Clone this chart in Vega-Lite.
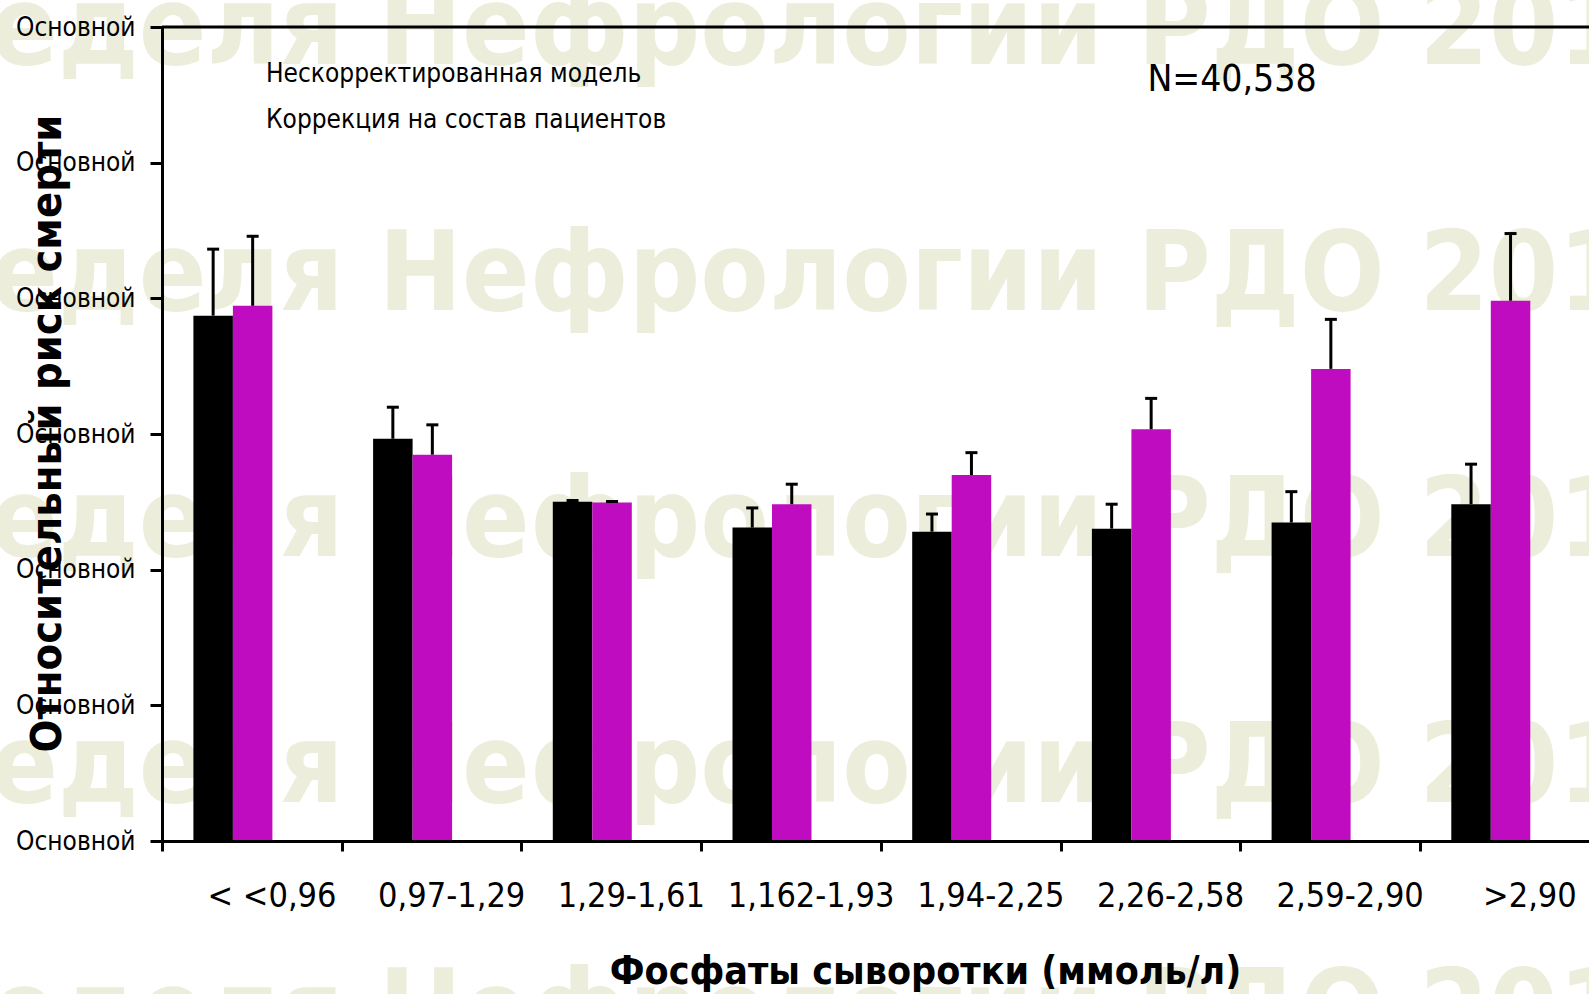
{
  "$schema": "https://vega.github.io/schema/vega-lite/v6.json",
  "width": 1427,
  "height": 814,
  "autosize": {"type": "none"},
  "padding": {"left": 162, "top": 27, "right": 0, "bottom": 153},
  "background": "white",
  "config": {"view": {"stroke": null}, "font": "DejaVu Sans Condensed, Liberation Sans, sans-serif"},
  "datasets": {
    "bars": [
      {"cat": "< <0,96", "series": "Нескорректированная модель", "rr": 1.549, "upper": 1.745},
      {"cat": "< <0,96", "series": "Коррекция на состав пациентов", "rr": 1.578, "upper": 1.783},
      {"cat": "0,97-1,29", "series": "Нескорректированная модель", "rr": 1.186, "upper": 1.279},
      {"cat": "0,97-1,29", "series": "Коррекция на состав пациентов", "rr": 1.139, "upper": 1.227},
      {"cat": "1,29-1,61", "series": "Нескорректированная модель", "rr": 1.0, "upper": 1.004},
      {"cat": "1,29-1,61", "series": "Коррекция на состав пациентов", "rr": 0.998, "upper": 1.001},
      {"cat": "1,162-1,93", "series": "Нескорректированная модель", "rr": 0.924, "upper": 0.982},
      {"cat": "1,162-1,93", "series": "Коррекция на состав пациентов", "rr": 0.993, "upper": 1.052},
      {"cat": "1,94-2,25", "series": "Нескорректированная модель", "rr": 0.912, "upper": 0.964},
      {"cat": "1,94-2,25", "series": "Коррекция на состав пациентов", "rr": 1.079, "upper": 1.145},
      {"cat": "2,26-2,58", "series": "Нескорректированная модель", "rr": 0.921, "upper": 0.993},
      {"cat": "2,26-2,58", "series": "Коррекция на состав пациентов", "rr": 1.214, "upper": 1.305},
      {"cat": "2,59-2,90", "series": "Нескорректированная модель", "rr": 0.939, "upper": 1.03},
      {"cat": "2,59-2,90", "series": "Коррекция на состав пациентов", "rr": 1.392, "upper": 1.538},
      {"cat": ">2,90", "series": "Нескорректированная модель", "rr": 0.993, "upper": 1.111},
      {"cat": ">2,90", "series": "Коррекция на состав пациентов", "rr": 1.593, "upper": 1.791}
    ],
    "wm": [
      {"cat": "1,162-1,93", "level": 2.29, "wm": "Неделя Нефрологии РДО 2014"},
      {"cat": "1,162-1,93", "level": 1.565, "wm": "Неделя Нефрологии РДО 2014"},
      {"cat": "1,162-1,93", "level": 0.84, "wm": "Неделя Нефрологии РДО 2014"},
      {"cat": "1,162-1,93", "level": 0.115, "wm": "Неделя Нефрологии РДО 2014"},
      {"cat": "1,162-1,93", "level": -0.61, "wm": "Неделя Нефрологии РДО 2014"}
    ],
    "note": [
      {"cat": "2,26-2,58", "level": 2.243, "note": "N=40,538"}
    ]
  },
  "layer": [
    {
      "data": {"name": "wm"},
      "mark": {"type": "text", "font": "DejaVu Sans Condensed, Liberation Sans, sans-serif", "fontWeight": "bold", "fontSize": 111, "color": "#ecedda", "align": "center", "baseline": "alphabetic", "dx": 30},
      "encoding": {
        "x": {"field": "cat", "type": "nominal", "scale": {"type": "band", "domain": ["< <0,96", "0,97-1,29", "1,29-1,61", "1,162-1,93", "1,94-2,25", "2,26-2,58", "2,59-2,90", ">2,90"], "paddingInner": 0.5604, "paddingOuter": 0.2507, "align": 0.3485}},
        "y": {"field": "level", "type": "quantitative", "scale": {"domain": [0, 2.4], "nice": false, "zero": false}},
        "text": {"field": "wm", "type": "nominal"}
      }
    },
    {
      "data": {"name": "bars"},
      "mark": {"type": "bar"},
      "encoding": {
        "x": {"field": "cat", "type": "nominal", "sort": null,
          "scale": {"type": "band", "domain": ["< <0,96", "0,97-1,29", "1,29-1,61", "1,162-1,93", "1,94-2,25", "2,26-2,58", "2,59-2,90", ">2,90"], "paddingInner": 0.5604, "paddingOuter": 0.2507, "align": 0.3485},
          "axis": {
            "title": "Фосфаты сыворотки (ммоль/л)", "titleFont": "DejaVu Sans Condensed, Liberation Sans, sans-serif", "titleFontWeight": "bold", "titleFontSize": 39, "titleColor": "black",
            "titleX": 763, "titleY": 142, "titleAlign": "center", "titleBaseline": "alphabetic",
            "labelFont": "DejaVu Sans Condensed, Liberation Sans, sans-serif", "labelFontSize": 34, "labelColor": "black", "labelAngle": 0, "labelAlign": "center", "labelBaseline": "top",
            "labelPadding": 28, "labelLimit": 400, "bandPosition": 0, "tickOffset": -31.4, "labelOffset": 70,
            "tickSize": 10, "tickWidth": 3, "tickColor": "black", "domainColor": "black", "domainWidth": 3, "grid": false, "zindex": 1
          }
        },
        "xOffset": {"field": "series", "type": "nominal", "scale": {"domain": ["Нескорректированная модель", "Коррекция на состав пациентов"], "paddingInner": 0, "paddingOuter": 0}},
        "y": {"field": "rr", "type": "quantitative", "scale": {"domain": [0, 2.4], "nice": false, "zero": false},
          "axis": {
            "title": "Относительный риск смерти", "titleFont": "DejaVu Sans Condensed, Liberation Sans, sans-serif", "titleFontWeight": "bold", "titleFontSize": 43, "titleColor": "black",
            "titleAngle": -90, "titleX": -102, "titleY": 406, "titleAlign": "center", "titleBaseline": "alphabetic",
            "values": [0, 0.4, 0.8, 1.2, 1.6, 2.0, 2.4], "labelExpr": "'Основной'", "labelFont": "DejaVu Sans Condensed, Liberation Sans, sans-serif", "labelFontSize": 26, "labelColor": "black",
            "labelPadding": 15, "labelFlush": false, "labelBaseline": "middle", "tickSize": 12, "tickWidth": 3, "tickColor": "black",
            "domainColor": "black", "domainWidth": 3, "grid": false, "zindex": 1
          }
        },
        "color": {"field": "series", "type": "nominal",
          "scale": {"domain": ["Нескорректированная модель", "Коррекция на состав пациентов"], "range": ["#000000", "#c00cc0"]},
          "legend": {"orient": "none", "legendX": 78, "legendY": 33.5, "title": null, "symbolOpacity": 0, "symbolSize": 1, "symbolStrokeWidth": 0,
            "labelFont": "DejaVu Sans Condensed, Liberation Sans, sans-serif", "labelFontSize": 26, "labelColor": "black", "labelLimit": 1000, "rowPadding": 20, "labelOffset": 0, "padding": 0}
        }
      }
    },
    {
      "data": {"name": "bars"},
      "mark": {"type": "rule", "strokeWidth": 3, "color": "black"},
      "encoding": {
        "x": {"field": "cat", "type": "nominal"},
        "xOffset": {"field": "series", "type": "nominal"},
        "y": {"field": "rr", "type": "quantitative"},
        "y2": {"field": "upper"}
      }
    },
    {
      "data": {"name": "bars"},
      "mark": {"type": "tick", "size": 12, "thickness": 3, "color": "black", "opacity": 1},
      "encoding": {
        "x": {"field": "cat", "type": "nominal"},
        "xOffset": {"field": "series", "type": "nominal"},
        "y": {"field": "upper", "type": "quantitative"}
      }
    },
    {
      "data": {"values": [{}]},
      "mark": {"type": "rule", "strokeWidth": 3, "color": "black"},
      "encoding": {"y": {"datum": 2.4, "type": "quantitative"}}
    },
    {
      "data": {"name": "note"},
      "mark": {"type": "text", "font": "DejaVu Sans Condensed, Liberation Sans, sans-serif", "fontSize": 37, "color": "black", "align": "left", "baseline": "middle", "dx": 16},
      "encoding": {
        "x": {"field": "cat", "type": "nominal"},
        "y": {"field": "level", "type": "quantitative"},
        "text": {"field": "note", "type": "nominal"}
      }
    }
  ]
}
